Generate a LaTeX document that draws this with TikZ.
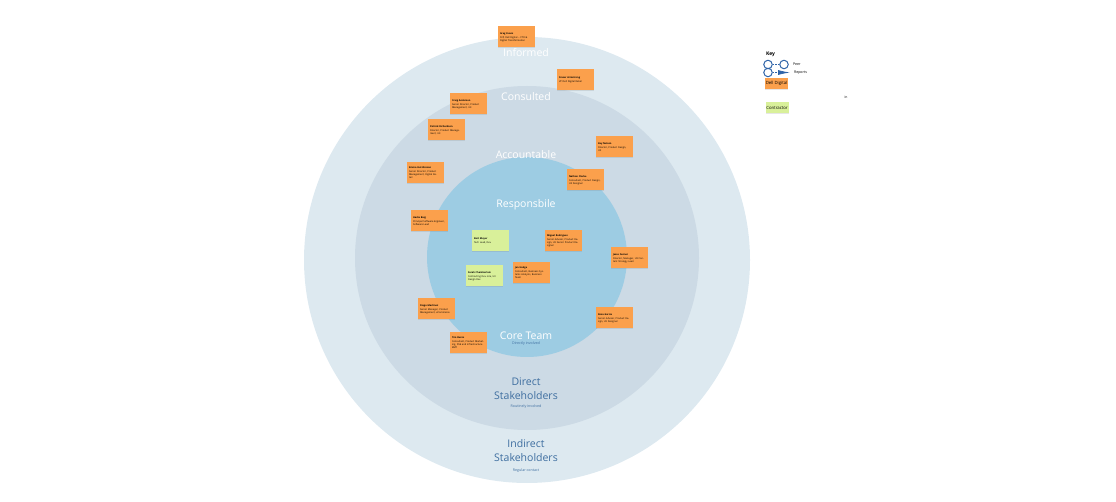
\documentclass[tikz,border=0pt]{standalone}
\usepackage{fontspec}
\setmainfont{Open Sans}
\usetikzlibrary{arrows.meta,positioning,shadows}
\definecolor{ringout}{HTML}{DDE9F0}
\definecolor{ringmid}{HTML}{CCDAE5}
\definecolor{ringin}{HTML}{9DCCE3}
\definecolor{dellorange}{HTML}{FBA04C}
\definecolor{contractgreen}{HTML}{D9F09A}
\definecolor{ringblue}{HTML}{3E6EA0}
\definecolor{keyblue}{HTML}{2F64A8}

\begin{document}
\begin{tikzpicture}[x=1pt,y=-1pt,
	ring/.style={circle,inner sep=0pt},
	ringlabel/.style={white,font=\fontsize{10.5}{12}\selectfont},
	stakelabel/.style={ringblue,align=center,font=\fontsize{10.5}{14}\selectfont},
	sublabel/.style={ringblue,font=\fontsize{3.6}{4}\selectfont},
	note/.style={fill=dellorange,minimum width=37,minimum height=21,text width=32,
		inner sep=2pt,align=left,font=\fontsize{2.4}{3}\selectfont,
		drop shadow={opacity=0.2,shadow xshift=0pt,shadow yshift=-1pt}},
	contractor/.style={note,fill=contractgreen},
	keybox/.style={minimum width=23,inner sep=0pt,font=\fontsize{4.3}{5}\selectfont,
		drop shadow={opacity=0.2,shadow xshift=0pt,shadow yshift=-1pt}},
	keydot/.style={circle,draw=keyblue,line width=1pt,minimum size=8.5,inner sep=0pt}]

\useasboundingbox (0,0) rectangle (1116,502);

% rings
\node[ring,fill=ringout,minimum size=446]	(indirect) at (527,260) {};
\node[ring,fill=ringmid,minimum size=344]	(direct) at (527,258) {};
\node[ring,fill=ringin,minimum size=200]	(core) at (527,257) {};

\node[ringlabel]	(informed) at (526,53)	{Informed};
\node[ringlabel]	(consulted) at (526,97)	{Consulted};
\node[ringlabel]	(accountable) at (526,155)	{Accountable};
\node[ringlabel]	(responsible) at (526,205)	{Responsbile};
\node[ringlabel]	(coreteam) at (526,336)	{Core Team};
\node[sublabel]	(coresub) at (526,344)	{Directly involved};

\node[stakelabel]	(directlbl) at (526,389)	{Direct\\Stakeholders};
\node[sublabel]	(directsub) at (526,407)	{Routinely involved};
\node[stakelabel]	(indirectlbl) at (526,451)	{Indirect\\Stakeholders};
\node[sublabel]	(indirectsub) at (526,471)	{Regular contact};

% people
\node[note]	(p1) at (516,37)	{\textbf{Greg Evans}\\[1pt] SVP, Dell Digital -- CTO \& Digital Transformation};
\node[note]	(p2) at (575,80)	{\textbf{Fraser Armstrong}\\[1pt] VP Dell Digital Retail};
\node[note]	(p3) at (468,104)	{\textbf{Craig Anderson}\\[1pt] Senior Director, Product Management, UX};
\node[note]	(p4) at (446,130)	{\textbf{Patrick Richardson}\\[1pt] Director, Product Management, UX};
\node[note]	(p5) at (425,173)	{\textbf{Emma Hutchinson}\\[1pt] Senior Director, Product Management, Digital Retail};
\node[note]	(p6) at (614,147)	{\textbf{Kay Nelson}\\[1pt] Director, Product Design, UX};
\node[note]	(p7) at (585,180)	{\textbf{Nathan Clarke}\\[1pt] Consultant, Product Design, UX Designer};
\node[note]	(p8) at (429,221)	{\textbf{Hadia Baig}\\[1pt] Principal Software Engineer, Software Lead};
\node[contractor]	(p9) at (490,241)	{\textbf{Bart Meyer}\\[1pt] Tech Lead, Dev};
\node[note]	(p10) at (563,241)	{\textbf{Miguel Rodrigues}\\[1pt] Senior Advisor, Product Design, UX Senior Product Designer};
\node[contractor]	(p11) at (484,276)	{\textbf{Sarah Chamberlain}\\[1pt] Contracting Dev role, UX Design Dev};
\node[note]	(p12) at (531,273)	{\textbf{Jen Hodge}\\[1pt] Consultant, Business Systems Analysis, Business Team};
\node[note]	(p13) at (629,258)	{\textbf{Jesse Fenner}\\[1pt] Director, Manager, UX Content Strategy Lead};
\node[note]	(p14) at (436,309)	{\textbf{Diego Martinez}\\[1pt] Senior Manager, Product Management, eCommerce};
\node[note]	(p15) at (468,343)	{\textbf{Tim Burns}\\[1pt] Consultant, Product Marketing, DSE and Infrastructure BMT};
\node[note]	(p16) at (614,318)	{\textbf{Rosa Garcia}\\[1pt] Senior Advisor, Product Design, UX Designer};

% key
\node[font=\bfseries\fontsize{5}{6}\selectfont]	(key) at (770.5,54)	{Key};
\node[keydot]	(peerA) at (768,64.5)	{};
\node[keydot]	(peerB) at (784,64.5)	{};
\node[keydot]	(repA) at (768,72.5)	{};
\coordinate	(repB) at (790,72.5);
\node[anchor=west,font=\fontsize{3.6}{4}\selectfont]	(peerlbl) at (789.5,64.5)	{Peer};
\node[anchor=west,font=\fontsize{3.6}{4}\selectfont]	(replbl) at (790.5,72.5)	{Reports};
\path[draw=keyblue,line width=0.8pt,dash pattern=on 1.2pt off 1.5pt]	(peerA) -- (peerB);
\path[draw=keyblue,line width=0.8pt,dash pattern=on 1.2pt off 1.5pt,
	-{Latex[length=12pt,width=5pt]}]	(repA) -- (repB);

\node[keybox,fill=dellorange,minimum height=11]	(keydell) at (776.5,83.5)	{Dell Digital};
\node[keybox,fill=contractgreen,minimum height=11]	(keycontract) at (777,107.5)	{Contractor};
\node[font=\fontsize{3.4}{4}\selectfont]	(stray) at (846,97)	{in};

\end{tikzpicture}
\end{document}
